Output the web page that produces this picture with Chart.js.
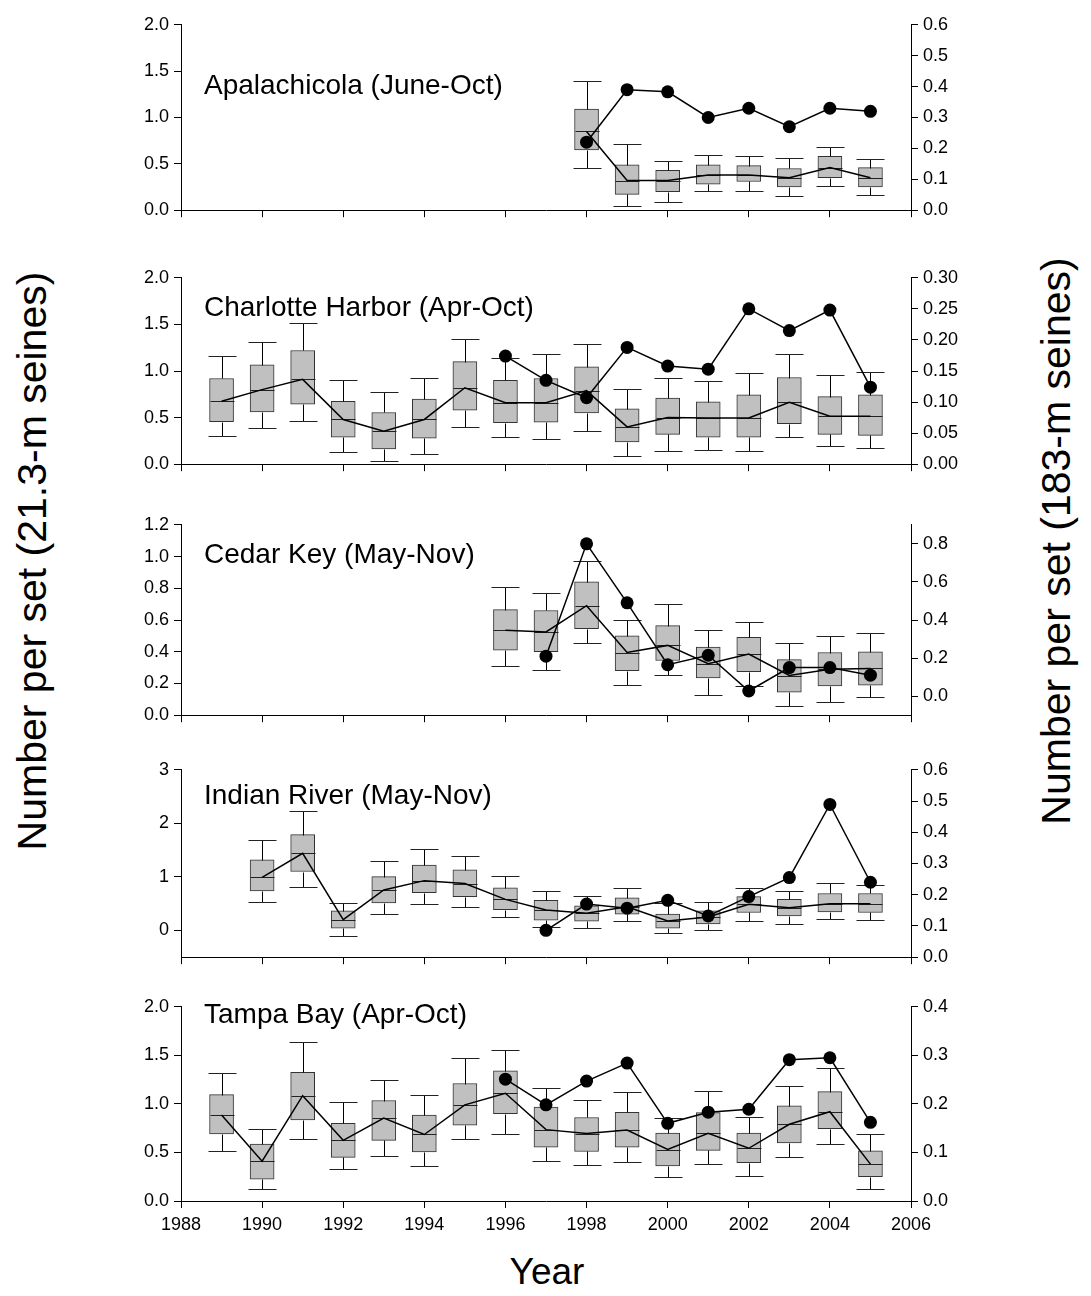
<!DOCTYPE html>
<html>
<head>
<meta charset="utf-8">
<script src="https://cdn.jsdelivr.net/npm/chart.js@4.4.0/dist/chart.umd.min.js"></script>
<style>
  body { margin: 0; background: #fff; width: 1091px; height: 1296px; position: relative; overflow: hidden;
         font-family: Arial, "Liberation Sans", sans-serif; color: #000; }
  canvas { position: absolute; left: 0; }
  .ytitle { position: absolute; font-size: 41px; white-space: nowrap; transform: translate(-50%, -50%) rotate(-90deg); }
  #xtitle { position: absolute; left: 547px; top: 1272px; transform: translate(-50%, -50%); font-size: 37px; }
</style>
</head>
<body>
<div class="ytitle" style="left:32px; top:561px;">Number per set (21.3-m seines)</div>
<div class="ytitle" style="left:1056px; top:541px;">Number per set (183-m seines)</div>
<div id="xtitle">Year</div>
<script>
// datos: cada caja = [bigote inf, Q1, mediana, Q3, bigote sup]
const xTickLabels = ['1988', '1990', '1992', '1994', '1996', '1998', '2000', '2002', '2004', '2006'];

// Apalachicola
const apalYears = [1998, 1999, 2000, 2001, 2002, 2003, 2004, 2005];
const apalBoxes = [
  [0.45, 0.65, 0.85, 1.09, 1.39], [0.05, 0.17, 0.32, 0.49, 0.71], [0.09, 0.20, 0.32, 0.43, 0.53],
  [0.21, 0.28, 0.38, 0.49, 0.60], [0.21, 0.31, 0.38, 0.48, 0.58], [0.15, 0.25, 0.35, 0.45, 0.56],
  [0.26, 0.35, 0.46, 0.58, 0.68], [0.16, 0.25, 0.35, 0.46, 0.55]
];
const apalDotYears = [1998, 1999, 2000, 2001, 2002, 2003, 2004, 2005];
const apalDots = [0.22, 0.39, 0.383, 0.30, 0.33, 0.27, 0.33, 0.32];
const apalLeftTicks = ['0.0', '0.5', '1.0', '1.5', '2.0'];
const apalRightTicks = ['0.0', '0.1', '0.2', '0.3', '0.4', '0.5', '0.6'];

// Charlotte Harbor
const charYears = [1989, 1990, 1991, 1992, 1993, 1994, 1995, 1996, 1997, 1998, 1999, 2000, 2001, 2002, 2003, 2004, 2005];
const charBoxes = [
  [0.30, 0.455, 0.675, 0.92, 1.16], [0.385, 0.56, 0.80, 1.065, 1.31], [0.46, 0.645, 0.91, 1.22, 1.52],
  [0.13, 0.29, 0.48, 0.675, 0.90], [0.035, 0.165, 0.355, 0.555, 0.78], [0.11, 0.28, 0.48, 0.70, 0.92],
  [0.40, 0.58, 0.82, 1.10, 1.345], [0.29, 0.445, 0.66, 0.90, 1.135], [0.27, 0.45, 0.66, 0.92, 1.18],
  [0.36, 0.55, 0.79, 1.045, 1.29], [0.085, 0.24, 0.40, 0.595, 0.81], [0.14, 0.32, 0.50, 0.71, 0.925],
  [0.155, 0.29, 0.495, 0.67, 0.895], [0.14, 0.29, 0.495, 0.745, 0.975], [0.295, 0.435, 0.665, 0.93, 1.185],
  [0.19, 0.32, 0.515, 0.725, 0.955], [0.175, 0.31, 0.515, 0.745, 0.99]
];
const charDotYears = [1996, 1997, 1998, 1999, 2000, 2001, 2002, 2003, 2004, 2005];
const charDots = [0.174, 0.135, 0.107, 0.188, 0.158, 0.153, 0.25, 0.215, 0.248, 0.124];
const charLeftTicks = ['0.0', '0.5', '1.0', '1.5', '2.0'];
const charRightTicks = ['0.00', '0.05', '0.10', '0.15', '0.20', '0.25', '0.30'];

// Cedar Key
const cedarYears = [1996, 1997, 1998, 1999, 2000, 2001, 2002, 2003, 2004, 2005];
const cedarBoxes = [
  [0.31, 0.41, 0.535, 0.665, 0.81], [0.285, 0.40, 0.525, 0.66, 0.77], [0.455, 0.545, 0.69, 0.84, 0.975],
  [0.19, 0.28, 0.395, 0.50, 0.60], [0.255, 0.345, 0.44, 0.565, 0.70], [0.13, 0.235, 0.325, 0.43, 0.54],
  [0.185, 0.275, 0.385, 0.49, 0.59], [0.06, 0.145, 0.25, 0.35, 0.455], [0.085, 0.185, 0.29, 0.395, 0.50],
  [0.115, 0.19, 0.295, 0.40, 0.52]
];
const cedarDotYears = [1997, 1998, 1999, 2000, 2001, 2002, 2003, 2004, 2005];
const cedarDots = [0.21, 0.80, 0.49, 0.165, 0.215, 0.027, 0.15, 0.15, 0.11];
const cedarLeftTicks = ['0.0', '0.2', '0.4', '0.6', '0.8', '1.0', '1.2'];
const cedarRightTicks = ['0.0', '0.2', '0.4', '0.6', '0.8'];

// Indian River
const indianYears = [1990, 1991, 1992, 1993, 1994, 1995, 1996, 1997, 1998, 1999, 2000, 2001, 2002, 2003, 2004, 2005];
const indianBoxes = [
  [0.54, 0.74, 0.99, 1.32, 1.68], [0.81, 1.10, 1.44, 1.79, 2.23], [-0.10, 0.04, 0.20, 0.365, 0.515],
  [0.305, 0.515, 0.755, 1.005, 1.30], [0.49, 0.705, 0.93, 1.22, 1.515], [0.43, 0.63, 0.875, 1.13, 1.395],
  [0.25, 0.39, 0.58, 0.795, 1.01], [0.06, 0.19, 0.38, 0.56, 0.745], [0.05, 0.175, 0.32, 0.46, 0.635],
  [0.18, 0.305, 0.44, 0.61, 0.79], [-0.055, 0.04, 0.175, 0.305, 0.52], [0.0, 0.12, 0.25, 0.365, 0.525],
  [0.185, 0.335, 0.49, 0.63, 0.785], [0.125, 0.27, 0.425, 0.58, 0.73], [0.215, 0.345, 0.50, 0.69, 0.885],
  [0.19, 0.335, 0.50, 0.69, 0.84]
];
const indianDotYears = [1997, 1998, 1999, 2000, 2001, 2002, 2003, 2004, 2005];
const indianDots = [0.086, 0.17, 0.157, 0.182, 0.132, 0.194, 0.255, 0.489, 0.24];
const indianLeftTicks = ['0', '1', '2', '3'];
const indianRightTicks = ['0.0', '0.1', '0.2', '0.3', '0.4', '0.5', '0.6'];

// Tampa Bay
const tampaYears = [1989, 1990, 1991, 1992, 1993, 1994, 1995, 1996, 1997, 1998, 1999, 2000, 2001, 2002, 2003, 2004, 2005];
const tampaBoxes = [
  [0.52, 0.69, 0.885, 1.095, 1.32], [0.12, 0.225, 0.41, 0.585, 0.74], [0.635, 0.835, 1.085, 1.325, 1.64],
  [0.325, 0.45, 0.625, 0.80, 1.02], [0.46, 0.625, 0.855, 1.035, 1.245], [0.365, 0.505, 0.685, 0.885, 1.095],
  [0.635, 0.78, 0.99, 1.21, 1.475], [0.69, 0.90, 1.11, 1.34, 1.555], [0.415, 0.555, 0.735, 0.967, 1.163],
  [0.375, 0.51, 0.695, 0.86, 1.045], [0.40, 0.555, 0.73, 0.913, 1.126], [0.25, 0.36, 0.53, 0.70, 0.855],
  [0.38, 0.522, 0.698, 0.91, 1.132], [0.255, 0.395, 0.543, 0.70, 0.87], [0.452, 0.597, 0.79, 0.98, 1.183],
  [0.583, 0.745, 0.92, 1.126, 1.372], [0.128, 0.25, 0.38, 0.516, 0.69]
];
const tampaDotYears = [1996, 1997, 1998, 1999, 2000, 2001, 2002, 2003, 2004, 2005];
const tampaDots = [0.251, 0.198, 0.247, 0.284, 0.16, 0.183, 0.189, 0.291, 0.295, 0.162];
const tampaLeftTicks = ['0.0', '0.5', '1.0', '1.5', '2.0'];
const tampaRightTicks = ['0.0', '0.1', '0.2', '0.3', '0.4'];

const FONT = 'Arial, "Liberation Sans", sans-serif';
Chart.defaults.font.family = FONT;
Chart.defaults.color = '#000';

// paneles: datos + posicion en la pagina
const paneles = [
  { nombre: 'Apalachicola (June-Oct)', years: apalYears, boxes: apalBoxes, dotYears: apalDotYears, dots: apalDots,
    izq: apalLeftTicks, der: apalRightTicks, yMin: 0, yMax: 2, y2Min: 0, y2Max: 0.6, top: 21, bottom: 214, dy: 69 },
  { nombre: 'Charlotte Harbor (Apr-Oct)', years: charYears, boxes: charBoxes, dotYears: charDotYears, dots: charDots,
    izq: charLeftTicks, der: charRightTicks, yMin: 0, yMax: 2, y2Min: 0, y2Max: 0.3, top: 274, bottom: 468, dy: 38 },
  { nombre: 'Cedar Key (May-Nov)', years: cedarYears, boxes: cedarBoxes, dotYears: cedarDotYears, dots: cedarDots,
    izq: cedarLeftTicks, der: cedarRightTicks, yMin: 0, yMax: 1.2, y2Min: -0.1, y2Max: 0.9, top: 521, bottom: 719, dy: 38 },
  { nombre: 'Indian River (May-Nov)', years: indianYears, boxes: indianBoxes, dotYears: indianDotYears, dots: indianDots,
    izq: indianLeftTicks, der: indianRightTicks, yMin: -0.5, yMax: 3, y2Min: 0, y2Max: 0.6, top: 766, bottom: 961, dy: 34 },
  { nombre: 'Tampa Bay (Apr-Oct)', years: tampaYears, boxes: tampaBoxes, dotYears: tampaDotYears, dots: tampaDots,
    izq: tampaLeftTicks, der: tampaRightTicks, yMin: 0, yMax: 2, y2Min: 0, y2Max: 0.4, top: 1003, bottom: 1201, dy: 16 }
];

// bigotes, topes y mediana de cada caja
const cajasPlugin = {
  id: 'cajas',
  afterDatasetDraw(chart, args) {
    const ds = chart.data.datasets[args.index];
    if (!ds.cajas) return;
    const x = chart.scales.x, y = chart.scales.y, ctx = chart.ctx;
    ctx.save();
    ctx.lineWidth = 1;
    ds.cajas.forEach((c, i) => {
      const px = Math.round(x.getPixelForValue(ds.anios[i])) + 0.5;
      const [lo, q1, med, q3, hi] = c.map(v => Math.round(y.getPixelForValue(v)) + 0.5);
      ctx.strokeStyle = '#000';
      ctx.beginPath();
      ctx.moveTo(px, q3); ctx.lineTo(px, hi);
      ctx.moveTo(px, q1); ctx.lineTo(px, lo);
      ctx.stroke();
      ctx.strokeStyle = '#222';
      ctx.beginPath();
      ctx.moveTo(px - 14, hi); ctx.lineTo(px + 14, hi);
      ctx.moveTo(px - 14, lo); ctx.lineTo(px + 14, lo);
      ctx.moveTo(px - 12, med); ctx.lineTo(px + 12, med);
      ctx.stroke();
    });
    ctx.restore();
  }
};

const etiquetaPlugin = {
  id: 'etiqueta',
  afterDraw(chart, args, opts) {
    const { ctx, chartArea } = chart;
    ctx.save();
    ctx.font = '28px ' + FONT;
    ctx.fillStyle = '#000';
    ctx.textBaseline = 'alphabetic';
    ctx.fillText(opts.texto, chartArea.left + 23, chartArea.top + opts.dy);
    ctx.restore();
  }
};

const IZQ = 181, DER = 911, ANCHO = 1091;

function ejeY(pos, min, max, etiquetas, ancho) {
  return {
    type: 'linear', position: pos, min: min, max: max,
    grid: { drawOnChartArea: false, tickLength: 7, color: '#000', lineWidth: 1 },
    border: { display: true, color: '#000', width: 1 },
    ticks: { autoSkip: false, padding: 5, color: '#000', font: { size: 18 }, callback: (v, i) => etiquetas[i] },
    afterBuildTicks: s => { s.ticks = etiquetas.map(t => ({ value: parseFloat(t) })); },
    afterFit: s => { s.width = ancho; }
  };
}

paneles.forEach((p, k) => {
  const ultimo = k === paneles.length - 1;
  const altoX = ultimo ? 40 : 12;
  const cv = document.createElement('canvas');
  cv.width = ANCHO;
  cv.height = p.bottom - p.top + 12 + altoX;
  cv.style.top = (p.top - 12) + 'px';
  document.body.appendChild(cv);

  new Chart(cv, {
    type: 'line',
    data: {
      datasets: [
        { type: 'line', data: p.dotYears.map((a, i) => ({ x: a, y: p.dots[i] })), yAxisID: 'y2',
          borderColor: '#000', borderWidth: 1.5, pointRadius: 6.5, pointBackgroundColor: '#000',
          pointBorderColor: '#000', pointBorderWidth: 0, fill: false, tension: 0 },
        { type: 'line', data: p.years.map((a, i) => ({ x: a, y: p.boxes[i][2] })), yAxisID: 'y',
          borderColor: '#000', borderWidth: 1.5, pointRadius: 0, fill: false, tension: 0 },
        { type: 'bar', data: p.years.map((a, i) => ({ x: a, y: [p.boxes[i][1], p.boxes[i][3]] })), yAxisID: 'y',
          backgroundColor: '#c0c0c0', borderColor: '#333', borderWidth: 1, borderSkipped: false,
          barThickness: 24, grouped: false, cajas: p.boxes, anios: p.years }
      ]
    },
    options: {
      responsive: false,
      animation: false,
      events: [],
      layout: { padding: { top: 12, left: 0, right: 0, bottom: 0 } },
      plugins: {
        legend: { display: false },
        tooltip: { enabled: false },
        etiqueta: { texto: p.nombre, dy: p.dy }
      },
      scales: {
        x: {
          type: 'linear', min: 1988, max: 2006, offset: false,
          grid: { drawOnChartArea: false, offset: false, tickLength: 7, color: '#000', lineWidth: 1 },
          border: { display: true, color: '#000', width: 1 },
          ticks: { display: ultimo, autoSkip: false, maxRotation: 0, padding: 6, color: '#000', font: { size: 18 },
                   callback: (v, i) => xTickLabels[i] },
          afterBuildTicks: s => { s.ticks = xTickLabels.map(t => ({ value: parseFloat(t) })); },
          afterFit: s => { s.height = altoX; }
        },
        y: ejeY('left', p.yMin, p.yMax, p.izq, IZQ),
        y2: ejeY('right', p.y2Min, p.y2Max, p.der, ANCHO - DER)
      }
    },
    plugins: [cajasPlugin, etiquetaPlugin]
  });
});
</script>
</body>
</html>
